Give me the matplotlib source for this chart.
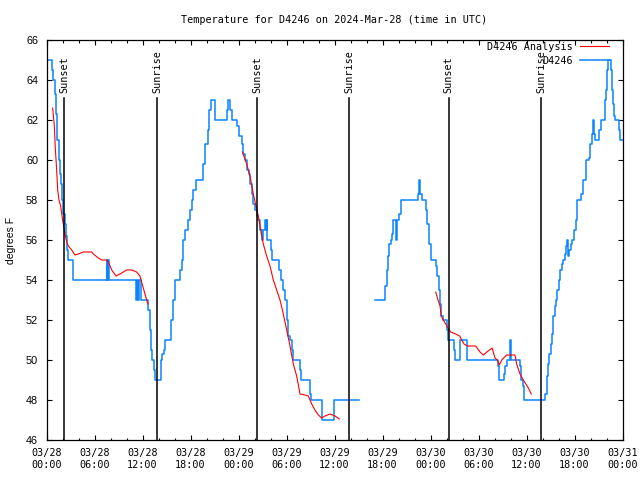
import matplotlib

matplotlib.use("Agg")
import matplotlib.pyplot as plt
import numpy as np
from matplotlib.ticker import MultipleLocator

nan = np.nan

# hours since 2024-03-28 00:00 UTC
TICK_HOURS = list(range(0, 73, 6))
TICK_LABELS = ["03/28\n00:00", "03/28\n06:00", "03/28\n12:00", "03/28\n18:00",
               "03/29\n00:00", "03/29\n06:00", "03/29\n12:00", "03/29\n18:00",
               "03/30\n00:00", "03/30\n06:00", "03/30\n12:00", "03/30\n18:00",
               "03/31\n00:00"]

SUN_HOURS = [2.23, 13.85, 26.3, 37.85, 50.25, 61.8]
SUN_NAMES = ["Sunset", "Sunrise", "Sunset", "Sunrise", "Sunset", "Sunrise"]

# observed station temperature (stepped), NaN marks the data gap
OBS_T = [0.23, 0.73, 0.85, 1.02, 1.19, 1.35, 1.56, 1.69, 1.81, 1.98, 2.10, 2.27, 2.44, 2.60,
         2.73, 3.35, 7.50, 7.60, 7.70, 7.80, 11.20, 11.30, 11.45, 11.60, 11.75, 12.73, 12.90,
         13.06, 13.23, 13.44, 13.60, 14.30, 14.45, 14.65, 14.85, 15.60, 15.80, 16.00, 16.72,
         16.90, 17.10, 17.35, 17.73, 17.94, 18.15, 18.35, 18.69, 19.55, 19.81, 20.23, 20.35,
         20.52, 21.00, 22.55, 22.70, 22.95, 23.15, 23.85, 24.10, 24.40, 24.60, 24.81, 25.02,
         25.25, 25.45, 25.65, 25.85, 26.05, 26.25, 26.45, 26.65, 26.90, 27.10, 27.31, 27.44,
         27.52, 27.62, 28.06, 28.23, 29.10, 29.31, 29.60, 29.81, 30.02, 30.23, 30.44, 30.65,
         30.85, 31.65, 31.81, 32.90, 33.06, 34.45, 35.90, 39.10,
         41.06, 42.30, 42.50, 42.65, 42.85, 43.02, 43.19, 43.35, 43.70, 43.85, 44.05, 44.25,
         46.40, 46.55, 46.70, 46.90, 47.40, 47.62, 47.82, 48.00, 48.65, 48.85, 49.02, 49.19,
         49.35, 49.52, 50.02, 50.15, 50.98, 51.12, 51.69, 52.52, 56.45, 56.60, 57.15, 57.30,
         57.50, 57.90, 58.06, 59.15, 59.35, 59.55, 59.73, 62.35, 62.52, 62.70, 62.85, 63.00,
         63.15, 63.35, 63.55, 63.69, 63.85, 64.02, 64.19, 64.40, 64.60, 64.81, 64.94, 65.06,
         65.19, 65.35, 65.52, 65.73, 65.94, 66.19, 66.35, 66.85, 67.02, 67.40, 67.81, 67.94,
         68.15, 68.35, 68.44, 68.56, 69.10, 69.35, 69.81, 69.94, 70.10, 70.23, 70.60, 70.73,
         70.85, 70.98, 71.10, 71.50, 71.65, 72.00]
OBS_F = [65, 64.5, 64, 63.3, 62.3, 61, 60, 59.3, 58.8, 58, 57.3, 56.8, 56.2, 55.5,
         55, 54, 55, 54, 55, 54, 53, 54, 53, 54, 53, 52.5, 51.5,
         50.5, 50, 49.5, 49, 50, 50.3, 50.5, 51, 52, 53, 54, 54.5,
         55, 56, 56.5, 57, 57.5, 58, 58.5, 59, 59.8, 60.8, 61.5, 62.5,
         63, 62, 62.5, 63, 62.5, 62, 61.7, 61.2, 60.8, 60.3, 60, 59.5,
         59.3, 58.8, 58.3, 57.8, 57.5, 57.2, 57, 56.5, 56, 56.5, 57, 56.5,
         57, 56, 55.5, 55, 54.5, 54, 53.5, 53, 52, 51.2, 51, 50.5,
         50, 49.5, 49, 48.3, 48, 47, 48, nan,
         53, 53.7, 54.5, 55.2, 55.8, 56, 56.3, 57, 56, 57, 57.3, 58,
         58.3, 59, 58.3, 58, 57.5, 56.8, 55.8, 55, 54.7, 54.2, 53.5, 52.8,
         52.2, 52, 51.5, 51, 50.5, 50, 51, 50, 49.7, 49, 49.3, 49.7,
         50, 51, 50, 49.7, 49, 48.7, 48, 48.3, 49.2, 49.8, 50.3, 50.8,
         51.3, 52.2, 52.7, 53, 53.5, 54, 54.5, 54.8, 55, 55.3, 55.7, 56,
         55.2, 55.5, 55.8, 56, 56.5, 57, 58, 58.3, 59, 60, 60.1, 60.8,
         61.3, 62, 61.3, 61, 61.5, 62, 63, 63.5, 64.5, 65, 64.5, 63.5,
         62.8, 62.2, 62, 61.5, 61, 61]

# analysis curve, NaN separates the three runs
ANA_T = [0.77, 0.98, 1.10, 1.27, 1.40, 1.56, 1.77, 1.90, 2.10, 2.31, 2.52, 2.73, 3.15, 3.56,
         3.98, 4.60, 5.65, 5.85, 6.48, 6.90, 7.52, 7.73, 8.15, 8.69, 9.19, 10.02, 10.65,
         11.27, 11.69, 12.10, 12.52, 12.69, 13.0,
         24.50, 25.02, 25.44, 25.85, 26.19, 26.48, 26.77, 27.10, 27.52, 27.94, 28.35, 28.77,
         29.19, 29.60, 30.02, 30.44, 30.85, 31.27, 31.69, 32.31, 32.73, 33.15, 33.56, 33.98,
         34.40, 34.81, 35.44, 36.06, 36.60, 37.0,
         48.65, 48.94, 49.19, 49.35, 49.60, 49.90, 50.19, 50.52, 51.15, 51.65, 51.90, 52.19,
         52.60, 53.65, 54.19, 54.60, 55.05, 55.70, 56.06, 56.35, 56.60, 56.90, 57.52, 58.15,
         58.56, 58.77, 59.19, 59.60, 60.23, 60.60]
ANA_F = [62.6, 61.7, 60.6, 59.5, 58.5, 58.0, 57.7, 57.3, 56.8, 56.3, 55.9, 55.7, 55.5, 55.25,
         55.3, 55.4, 55.4, 55.3, 55.1, 55.0, 55.0, 54.9, 54.5, 54.2, 54.3, 54.5, 54.5,
         54.4, 54.2, 53.6, 53.0, 52.8, nan,
         60.4, 59.8, 59.2, 58.3, 57.7, 57.2, 56.5, 55.8, 55.2, 54.7, 54.0, 53.5,
         53.0, 52.3, 51.5, 50.7, 49.8, 49.2, 48.3, 48.25, 48.2, 47.8, 47.5, 47.25,
         47.1, 47.2, 47.3, 47.2, 47.05, nan,
         53.4, 53.0, 52.7, 52.2, 52.0, 51.8, 51.6, 51.4, 51.3, 51.2, 51.0, 50.8,
         50.7, 50.7, 50.4, 50.25, 50.4, 50.6, 50.1, 50.0, 49.75, 50.0, 50.25, 50.25,
         50.25, 49.8, 49.3, 49.0, 48.6, 48.3]

MONO = "DejaVu Sans Mono"
SANS = "Liberation Sans"
RED, BLUE = "#ff0000", "#0a84ff"

fig = plt.figure(figsize=(6.4, 4.8), dpi=100)
ax = fig.add_axes([46.5 / 640, 40 / 480, 576 / 640, 400 / 480])
ax.set_xlim(0, 72)
ax.set_ylim(46, 66)

ax.plot(ANA_T, ANA_F, color=RED, lw=0.8, label="D4246 Analysis", zorder=3)
ax.plot(OBS_T, OBS_F, color=BLUE, lw=1.1, drawstyle="steps-post", label="D4246", zorder=2)

for h, name in zip(SUN_HOURS, SUN_NAMES):
    ax.plot([h, h], [46, 63.1], color="black", lw=1.1, zorder=4)
    ax.text(h, 63.35, name, rotation=90, ha="center", va="bottom",
            family=MONO, fontsize=7.3)

ax.set_xticks(TICK_HOURS)
ax.set_xticklabels(TICK_LABELS, family=MONO, fontsize=7.3, linespacing=1.25)
ax.xaxis.set_minor_locator(MultipleLocator(2))
ax.set_yticks(range(46, 67, 2))
ax.set_yticklabels([str(v) for v in range(46, 67, 2)], family=SANS, fontsize=7.8)
ax.tick_params(which="both", direction="in", top=True, right=True, width=0.8)
ax.tick_params(which="major", length=3.5)
ax.tick_params(which="minor", length=1.8)
ax.tick_params(axis="x", pad=6)
ax.tick_params(axis="y", pad=6)
for s in ax.spines.values():
    s.set_linewidth(0.9)

fig.text(11 / 640, 0.5, "degrees F", rotation=90, ha="center", va="center",
         family=SANS, fontsize=7.5)
fig.text(334 / 640, 1 - 20 / 480, "Temperature for D4246 on 2024-Mar-28 (time in UTC)",
         ha="center", va="center", family=MONO, fontsize=7.3)

ax.legend(loc="upper right", bbox_to_anchor=(0.9766, 0.995), frameon=False,
          markerfirst=False, prop={"family": MONO, "size": 7.3},
          handlelength=2.9, handletextpad=0.7, labelspacing=0.35, borderpad=0,
          borderaxespad=0)

fig.savefig("out.png", dpi=100)
